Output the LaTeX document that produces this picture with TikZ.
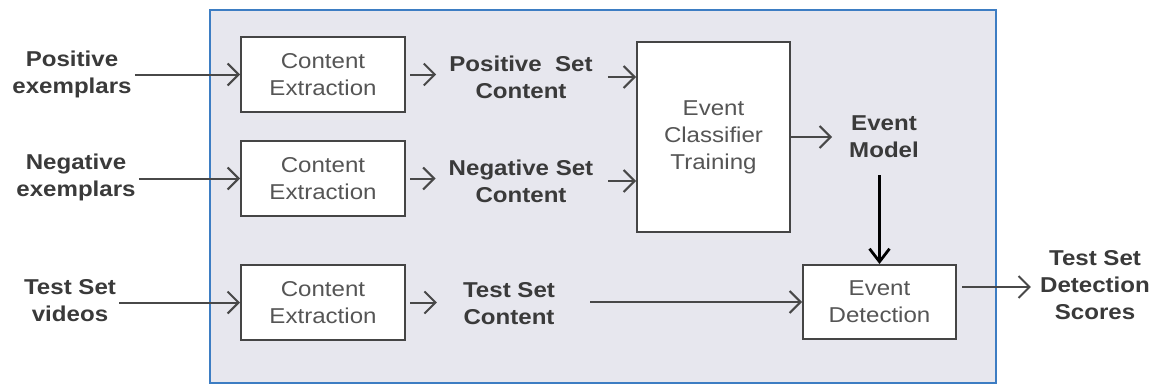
\documentclass[tikz,border=0pt]{standalone}
\usepackage{fontspec}
\setmainfont[FakeStretch=1.12]{Liberation Sans}
\usetikzlibrary{arrows.meta}
\definecolor{panelfill}{HTML}{E7E7EE}
\definecolor{panelline}{HTML}{3D7DC3}
\definecolor{boxline}{HTML}{454545}
\definecolor{boxtext}{HTML}{555555}
\definecolor{labeltext}{HTML}{3A3A3A}
\definecolor{arrowgray}{HTML}{484848}
\tikzset{
  blk/.style={draw=boxline, line width=2pt, fill=white, align=center, text=boxtext,
    font=\fontsize{21.5}{27}\selectfont, inner sep=0pt},
  lbl/.style={align=center, text=labeltext, font=\fontsize{21.5}{27}\selectfont\bfseries, inner sep=0pt},
  arr/.style={draw=arrowgray, line width=2pt, -{Straight Barb[length=11pt,width=22pt,line width=2pt]}},
  bigarr/.style={draw=black, line width=2.8pt, -{Straight Barb[length=13pt,width=20pt,line width=2.8pt]}}
}
\begin{document}
\begin{tikzpicture}[x=1pt,y=-1pt]
\useasboundingbox (0,0) rectangle (1153,388);
\draw[panelline, fill=panelfill, line width=2.5pt] (210,10) rectangle (996,383);

% boxes
\node[blk, minimum width=164pt, minimum height=75pt] (ce1) at (323,74.5) {Content\\Extraction};
\node[blk, minimum width=164pt, minimum height=75pt] (ce2) at (323,178.5) {Content\\Extraction};
\node[blk, minimum width=164pt, minimum height=75pt] (ce3) at (323,302.5) {Content\\Extraction};
\node[blk, minimum width=153pt, minimum height=190pt] (ect) at (713.5,137) {Event\\Classifier\\Training};
\node[blk, minimum width=153pt, minimum height=74pt] (ed) at (879.5,302) {Event\\Detection};

% labels
\node[lbl] (pe) at (72,74) {Positive\\exemplars};
\node[lbl] (ne) at (76,177) {Negative\\exemplars};
\node[lbl] (tv) at (70,301) {Test Set\\videos};
\node[lbl] (psc) at (521,77) {Positive\ \ Set\\Content};
\node[lbl] (nsc) at (521,181) {Negative Set\\Content};
\node[lbl] (tsc) at (509,304) {Test Set\\Content};
\node[lbl] (em) at (884,137) {Event\\Model};
\node[lbl] (tds) at (1095,285) {Test Set\\Detection\\Scores};

% connectors
\draw[arr, shorten <=3pt] (pe.east |- ce1.west) -- (ce1.west);
\draw[arr, shorten <=3pt] (ne.east |- ce2.west) -- (ce2.west);
\draw[arr, shorten <=3pt] (tv.east |- ce3.west) -- (ce3.west);

\draw[arr, shorten <=4pt, shorten >=13pt] (ce1.east) -- (ce1.east -| psc.west);
\draw[arr, shorten <=4pt, shorten >=13pt] (ce2.east) -- (ce2.east -| nsc.west);
\draw[arr, shorten <=4pt, shorten >=26pt] (ce3.east) -- (ce3.east -| tsc.west);

\draw[arr, shorten <=15pt] (psc.east) -- (psc.east -| ect.west);
\draw[arr, shorten <=15pt] (nsc.east) -- (nsc.east -| ect.west);
\draw[arr, shorten <=35pt] (tsc.east |- ed.west) -- (ed.west);

\draw[arr, shorten >=17pt] (ect.east |- em.west) -- (em.west);
\draw[bigarr, shorten <=17pt] (em.south -| ed.north) -- (ed.north);
\draw[arr, shorten <=5pt, shorten >=9pt] ([yshift=15pt]ed.east) -- ([yshift=15pt]ed.east -| tds.west);
\end{tikzpicture}
\end{document}
